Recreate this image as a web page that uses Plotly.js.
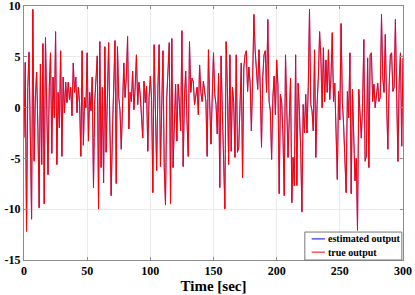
<!DOCTYPE html>
<html>
<head>
<meta charset="utf-8">
<script src="https://cdn.plot.ly/plotly-3.0.1.min.js"></script>
<style>html,body{margin:0;padding:0;background:#fff;}#chart{width:415px;height:295px;}</style>
</head>
<body>
<div id="chart"></div>
<script>
// sampled every 1 s from t = 0 to t = 300
const trueOutput = [
-3,4.4,-12.2,2,5.4,-3,-11,9.7,-5.3,1,3.5,-2,-9.9,4.3,-5.6,6.3,-9.5,6.9,0.5,-6.6,
2,5.4,-4.5,3,-1,7.5,-5.6,1.5,-2,5.6,-4.8,3,-0.5,2.5,0.5,2.5,0.8,2,-0.8,4.4,
1.5,3,-0.5,2,0.5,-4.8,5.6,-3.7,1,0,5.4,
-3.3,1.5,-0.3,3,-7.9,0.6,3.5,5.1,-10.0,6.5,
-5.9,2,-7.4,6.0,-4.4,1,6.4,-2,-8.7,-2.5,
3,6.6,-7.5,6.0,1,-0.3,-4.1,1.5,4.4,1.0,
3,7.0,-2.1,1.5,0.6,3.6,-0.2,2,5.2,0.3,
2.5,1.3,-1,-3.0,2.6,0.5,2.1,-4.3,1,3.1,
0.8,-8.4,6.2,-1,-6.2,2,6.2,-5.8,1.3,5.6,
-5.9,-9.6,1,4.4,6.4,-9.5,6.8,-5.9,-1,2.3,
-3.3,2.3,0.5,-2.3,7.6,-5.8,1,3.6,-1.2,-4.8,
6.5,1.5,2.9,2.6,0.3,1.2,2.0,-0.7,4.2,1.5,
0.6,2.6,1.5,0.6,-4.8,5.7,0.5,-3.6,1,5.4,
1.3,0.3,-2.6,3.4,-7.9,5.1,-0.3,-4.9,-10.0,6.5,
2.0,-5.6,5.2,-4.3,2.0,0.5,-4.9,5.2,-4.4,-3.9,
1,4.4,-6.9,3.9,5.2,5.6,1.6,4,2.4,-2.3,
3,9.2,5.6,3,1.8,5.7,2.0,-3.9,3,5.2,
5.6,1.5,8.7,0.6,-0.3,-5.1,1,3.1,-0.7,4.7,
2.3,-8.5,1.3,0.5,-2.8,-8.7,5.2,0.0,-4.9,-1,
2.9,-9.4,-4.9,-7.7,5.2,-7.7,2.4,-0.3,-4,-10.3,
0.3,-2.5,1.3,-2.5,2,9.7,0.3,-0.3,-2.3,5.7,
-4.9,0.3,3,7.5,4.9,0,5.9,0.6,4.7,1.5,
5.7,0.8,3,7.4,0.6,2.4,-2,-7.1,1.6,-1.2,
8.3,0.6,-1.7,-4.3,-8.4,1.6,-1.0,5.4,-8.5,1.8,
-3.0,-7.2,-5,-12.1,1.8,-1.0,-3.0,0.1,6.7,-5.3,
-4.8,4.9,-5.9,5.2,5.4,0.6,2.3,0.0,1,2.4,
0.6,1.0,9.2,2.9,1.5,7.2,0.8,-4.1,2,5.2,
5.4,1.6,2.0,8.7,1.3,-5.3,2.6,5.4,-3.8,4.9
];
const estimatedOutput = [
-2.9,4.5,-12.0,2,5.5,-3,-10.9,9.6,-5.2,1,3.5,-2,-9.8,4.3,-5.6,6.3,-9.4,6.9,0.5,-6.6,
2,5.4,-4.5,3,-1,7.4,-5.6,1.5,-2,5.6,-4.8,3,-0.5,2.5,0.5,2.5,0.8,2,-0.8,4.4,
1.5,3,-0.5,2,0.5,-4.8,5.6,-3.7,1,0,5.4,
-3.3,1.5,-0.3,3,-7.8,0.6,3.5,5.1,-9.9,6.5,
-5.9,2,-7.4,6.0,-4.4,1,6.4,-2,-8.6,-2.5,
3,6.6,-7.4,6.0,1,-0.3,-4.1,1.5,4.4,1.0,
3,7.0,-2.1,1.5,0.6,3.6,-0.2,2,5.2,0.3,
2.5,1.3,-1,-3.0,2.6,0.5,2.1,-4.3,1,3.1,
0.8,-8.3,6.2,-1,-6.2,2,6.2,-5.8,1.3,5.6,
-5.9,-9.5,1,4.4,6.4,-9.4,6.8,-5.9,-1,2.3,
-3.3,2.3,0.5,-2.3,7.5,-5.8,1,3.6,-1.2,-4.8,
6.5,1.5,2.9,2.6,0.3,1.2,2.0,-0.7,4.2,1.5,
0.6,2.6,1.5,0.6,-4.8,5.7,0.5,-3.6,1,5.4,
1.3,0.3,-2.6,3.4,-7.8,5.1,-0.3,-4.9,-9.9,6.5,
2.0,-5.6,5.2,-4.3,2.0,0.5,-4.9,5.2,-4.4,-3.9,
1,4.4,-6.9,3.9,5.2,5.6,1.6,4,2.4,-2.3,
3,9.1,5.6,3,1.8,5.7,2.0,-3.9,3,5.2,
5.6,1.5,8.6,0.6,-0.3,-5.1,1,3.1,-0.7,4.7,
2.3,-8.4,1.3,0.5,-2.8,-8.6,5.2,0.0,-4.9,-1,
2.9,-9.3,-4.9,-7.7,5.2,-7.6,2.4,-0.3,-4,-10.2,
0.3,-2.5,1.3,-2.5,2,9.6,0.3,-0.3,-2.3,5.7,
-4.9,0.3,3,7.4,4.9,0,5.9,0.6,4.7,1.5,
5.7,0.8,3,7.3,0.6,2.4,-2,-7.0,1.6,-1.2,
8.2,0.6,-1.7,-4.3,-8.3,1.6,-1.0,5.4,-8.4,1.8,
-3.0,-7.2,-5,-11.9,1.8,-1.0,-3.0,0.1,6.7,-5.1,
-4.9,4.9,-5.9,5.2,5.4,0.6,2.3,0.0,1,2.4,
0.6,1.0,9.1,2.9,1.5,7.2,0.8,-4.1,2,5.2,
5.4,1.6,2.0,8.6,1.3,-5.3,2.6,5.4,-3.8,4.9
];
const xTickVals = [0, 50, 100, 150, 200, 250, 300];
const yTickVals = [-15, -10, -5, 0, 5, 10];
const yTickText = ['-15', '-10', '-5', '0', '5', '10'];
const seriesNames = ['estimated output', 'true output'];
const seriesColors = ['rgb(0,0,255)', 'rgb(255,0,0)'];

const fontFam = 'Liberation Serif, Times New Roman, serif';

const traces = [
  {y: estimatedOutput, x0: 0, dx: 1, type: 'scatter', mode: 'lines', name: seriesNames[0],
   line: {color: seriesColors[0], width: 0.6}},
  {y: trueOutput, x0: 0, dx: 1, type: 'scatter', mode: 'lines', name: seriesNames[1],
   line: {color: seriesColors[1], width: 1}}
];

const axisCommon = {
  showline: true, linecolor: 'rgb(140,140,140)', linewidth: 1, mirror: 'ticks',
  ticks: 'inside', ticklen: 3, tickcolor: 'rgb(140,140,140)', tickwidth: 1,
  showgrid: true, gridcolor: 'rgb(235,235,235)', gridwidth: 1, zeroline: false,
  ticklabeloverflow: 'allow',
  tickfont: {family: fontFam, size: 12, color: '#000', weight: 'bold'}
};

// custom legend box (paper coordinates)
const lg = {x0: 0.741, x1: 0.997, y0: 0, y1: 0.110, lineX0: 0.759, lineX1: 0.794, textX: 0.797, rowY: [0.083, 0.031]};
const shapes = [
  {type: 'rect', xref: 'paper', yref: 'paper', x0: lg.x0, x1: lg.x1, y0: lg.y0, y1: lg.y1,
   fillcolor: '#fff', line: {color: 'rgb(120,120,120)', width: 1}, layer: 'above'}
];
const annotations = [];
seriesNames.forEach((n, i) => {
  shapes.push({type: 'line', xref: 'paper', yref: 'paper', x0: lg.lineX0, x1: lg.lineX1,
    y0: lg.rowY[i], y1: lg.rowY[i], line: {color: seriesColors[i], width: 1}, layer: 'above'});
  annotations.push({xref: 'paper', yref: 'paper', x: lg.textX, y: lg.rowY[i], xanchor: 'left', yanchor: 'middle',
    text: n, showarrow: false, font: {family: fontFam, size: 10, color: '#000', weight: 'bold'}});
});

const layout = {
  width: 415, height: 295,
  margin: {l: 24, r: 12, t: 6, b: 35},
  paper_bgcolor: '#fff', plot_bgcolor: '#fff',
  showlegend: false,
  xaxis: Object.assign({}, axisCommon, {
    range: [0, 300.01], tickvals: xTickVals, ticktext: xTickVals.map(String),
    title: {text: 'Time [sec]', font: {family: fontFam, size: 15, color: '#000', weight: 'bold'}, standoff: 2}
  }),
  yaxis: Object.assign({}, axisCommon, {
    range: [-15.01, 10.01], tickvals: yTickVals, ticktext: yTickText
  }),
  shapes: shapes,
  annotations: annotations
};

Plotly.newPlot('chart', traces, layout, {displayModeBar: false, staticPlot: true});
</script>
</body>
</html>
